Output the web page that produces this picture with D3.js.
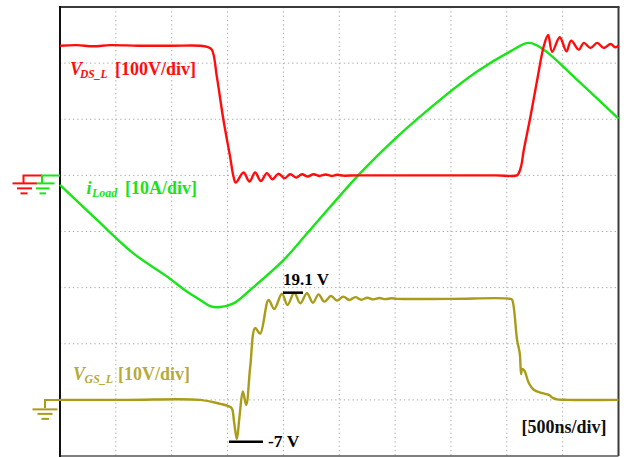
<!DOCTYPE html>
<html>
<head>
<meta charset="utf-8">
<script src="https://cdn.jsdelivr.net/npm/d3@7"></script>
<style>
  html, body { margin: 0; padding: 0; background: #fff; }
  svg { display: block; }
  text { font-family: "Liberation Serif", "Times New Roman", serif; font-weight: bold; }
</style>
</head>
<body>
<svg id="scope" width="627" height="457"></svg>
<script>
// Switching waveforms, 500 ns/div, 10 x 8 divisions.
// Time in ns, values in each channel's own unit.

// V_DS (low-side switch), volts
const vdsT = [0, 150, 300, 450, 700, 1000, 1255, 1317, 1359, 1404, 1463, 1523, 1553, 1574,
  1643, 1696, 1747, 1798, 1852, 1902, 1956, 2010, 2061, 2115, 2166, 2216, 2270, 2324,
  2377, 2430, 2482, 2535, 2650, 3000, 3500, 3900, 4092, 4107, 4128, 4152, 4212, 4272,
  4331, 4370, 4406, 4474, 4534, 4576, 4645, 4689, 4749, 4809, 4869, 4929, 4973, 5000];
const vdsV = [231, 232, 230, 232, 231, 231, 231, 229, 224, 176, 99, 33, -2, -13,
  5, -11, 5, -10, 4, -7, 3, -5, 2, -4, 2, -2, 2, -1,
  1.5, -1, 1, -0.5, 0, 0, 0, 0, 0, 4, 16, 45, 105, 170,
  230, 250, 220, 246, 221, 240, 224, 236, 227, 236, 227, 234, 228, 231];

// Load current, amperes
const iLoadT = [0, 329, 657, 956, 1135, 1255, 1344, 1419, 1553, 1703, 2001, 2240,
  2688, 2987, 3405, 3734, 4032, 4197, 4331, 4630, 5000];
const iLoadA = [-1.7, -7.9, -13.9, -18.0, -20.7, -22.2, -23.3, -23.5, -22.8, -20.4,
  -15.1, -9.7, 0.4, 6.3, 13.5, 18.5, 22.1, 23.6, 22.4, 17.0, 10.1];

// V_GS (low-side gate), volts
const vgsT = [0, 600, 1255, 1434, 1508, 1538, 1559, 1583, 1607, 1637, 1667, 1703, 1747,
  1792, 1867, 1918, 1987, 2037, 2097, 2151, 2211, 2264, 2315, 2366, 2426, 2480, 2536,
  2590, 2644, 2697, 2751, 2805, 2859, 2912, 2966, 3020, 3500, 4032, 4048, 4092, 4116,
  4128, 4137, 4158, 4197, 4241, 4317, 4376, 4415, 4451, 4541, 5000];
const vgsV = [0, 0, 0, -0.7, -1.1, -1.5, -4, -7, -3, 1.5, -0.9, 5.9, 12.8,
  11.8, 17.8, 16.2, 18.9, 16.9, 19.1, 17.2, 19.0, 17.3, 18.8, 17.5, 18.5, 17.7, 18.4,
  17.8, 18.3, 17.85, 18.2, 17.9, 18.15, 17.95, 18.1, 18.0, 18.0, 18.0, 17.8, 10.7, 8.3,
  4.6, 5.5, 5.2, 3.0, 1.8, 1.2, 0.9, 0.3, 0.1, 0, 0];

// Annotated gate levels
const vgsPeak = 19.1;
const vgsMin = -7;

// Channel labels: [symbol, subscript, scale]
const vdsLabel = ["V", "DS_L", "[100V/div]"];
const iLoadLabel = ["i", "Load", "[10A/div]"];
const vgsLabel = ["V", "GS_L", "[10V/div]"];
const timeLabel = "[500ns/div]";

const svg = d3.select("#scope");
const plotLeft = 60, plotRight = 618.5, plotTop = 7, plotBottom = 456;

// Horizontal: 10 divisions of 500 ns
const x = d3.scaleLinear().domain([0, 5000]).range([plotLeft, plotRight]);
// Vertical: 8 divisions; each channel has its own offset and V/div
const yVds = d3.scaleLinear().domain([-500, 300]).range([plotBottom, plotTop]);
const yI = d3.scaleLinear().domain([-50, 30]).range([plotBottom, plotTop]);
const yVgs = d3.scaleLinear().domain([-10, 70]).range([plotBottom, plotTop]);
const yDiv = d3.scaleLinear().domain([0, 8]).range([plotBottom, plotTop]);

const red = "#ff0d0d", green = "#18e418", olive = "#a89c18", oliveText = "#b6ab3a";

// Dotted graticule
const grid = svg.append("g").attr("stroke", "#a8a8a8").attr("stroke-width", 1)
  .attr("stroke-dasharray", "1.3 3");
d3.range(500, 5000, 500).forEach(t => {
  grid.append("line").attr("x1", x(t)).attr("x2", x(t)).attr("y1", plotTop).attr("y2", plotBottom);
});
d3.range(1, 8).forEach(d => {
  grid.append("line").attr("x1", plotLeft).attr("x2", plotRight).attr("y1", yDiv(d)).attr("y2", yDiv(d));
});

// Frame
svg.append("line").attr("x1", plotLeft).attr("x2", plotRight + 1).attr("y1", plotTop).attr("y2", plotTop)
  .attr("stroke", "#3a3a3a").attr("stroke-width", 2);
svg.append("line").attr("x1", plotRight).attr("x2", plotRight).attr("y1", plotTop).attr("y2", plotBottom)
  .attr("stroke", "#3a3a3a").attr("stroke-width", 2);
svg.append("line").attr("x1", plotLeft).attr("x2", plotRight).attr("y1", plotBottom).attr("y2", plotBottom)
  .attr("stroke", "#555").attr("stroke-width", 1.5);
svg.append("line").attr("x1", plotLeft).attr("x2", plotLeft).attr("y1", plotTop - 1).attr("y2", plotBottom + 1)
  .attr("stroke", "#111").attr("stroke-width", 2);

// Ground reference markers
function groundMarker(stemX, armX, y0, color, bars) {
  const g = svg.append("g").attr("stroke", color).attr("stroke-width", 2).attr("fill", "none");
  g.append("path").attr("d", `M${armX},${y0}H${stemX}V${y0 + 8}`);
  bars.forEach(([dy, x1, x2]) => {
    g.append("line").attr("x1", x1).attr("x2", x2).attr("y1", y0 + dy).attr("y2", y0 + dy);
  });
}
groundMarker(23.5, 42, yVds(0), red, [[8, 12.5, 37], [13, 17, 32], [18, 20.5, 27.5]]);
groundMarker(42, plotLeft, yI(0), green, [[8, 36.5, 54.5], [13, 36, 49.5], [18, 39.5, 46]]);
groundMarker(45, plotLeft, yVgs(0), olive, [[9.5, 32.5, 57.5], [14, 37.5, 52.5], [19, 41.5, 49]]);

// Traces
const curve = d3.curveCatmullRom.alpha(0.5);
function trace(ts, vs, yScale, color, width) {
  const line = d3.line().x(d => x(d[0])).y(d => yScale(d[1])).curve(curve);
  svg.append("path").datum(d3.zip(ts, vs)).attr("d", line)
    .attr("fill", "none").attr("stroke", color).attr("stroke-width", width)
    .attr("stroke-linejoin", "round");
}
trace(iLoadT, iLoadA, yI, green, 2.4);
trace(vgsT, vgsV, yVgs, olive, 2.4);
trace(vdsT, vdsV, yVds, red, 2.4);

// Channel labels
function channelLabel(lbl, color, x0, base, subX, subSize, restX) {
  const g = svg.append("g").attr("fill", color);
  g.append("text").attr("x", x0).attr("y", base).attr("font-size", 18)
    .attr("font-style", "italic").text(lbl[0]);
  g.append("text").attr("x", subX).attr("y", base + 3).attr("font-size", subSize)
    .attr("font-style", "italic").text(lbl[1]);
  g.append("text").attr("x", restX).attr("y", base).attr("font-size", 18).text(lbl[2]);
}
channelLabel(vdsLabel, red, 70, 74.5, 80, 11.5, 115);
channelLabel(iLoadLabel, green, 86.5, 194, 92, 12, 125);
channelLabel(vgsLabel, oliveText, 73, 380, 84.5, 12, 118);

// Gate voltage annotations
svg.append("line").attr("x1", 283).attr("x2", 303)
  .attr("y1", yVgs(vgsPeak)).attr("y2", yVgs(vgsPeak))
  .attr("stroke", "#000").attr("stroke-width", 2.5);
svg.append("text").attr("x", 283).attr("y", 285).attr("font-size", 17)
  .attr("fill", "#000").text(`${vgsPeak} V`);
svg.append("line").attr("x1", 229).attr("x2", 263)
  .attr("y1", yVgs(vgsMin) + 2.5).attr("y2", yVgs(vgsMin) + 2.5)
  .attr("stroke", "#000").attr("stroke-width", 2.5);
svg.append("text").attr("x", 268).attr("y", 447).attr("font-size", 17.5)
  .attr("fill", "#000").text(`${vgsMin} V`);

// Time base
svg.append("text").attr("x", 521.5).attr("y", 432.5).attr("font-size", 18)
  .attr("fill", "#111").text(timeLabel);
</script>
</body>
</html>
